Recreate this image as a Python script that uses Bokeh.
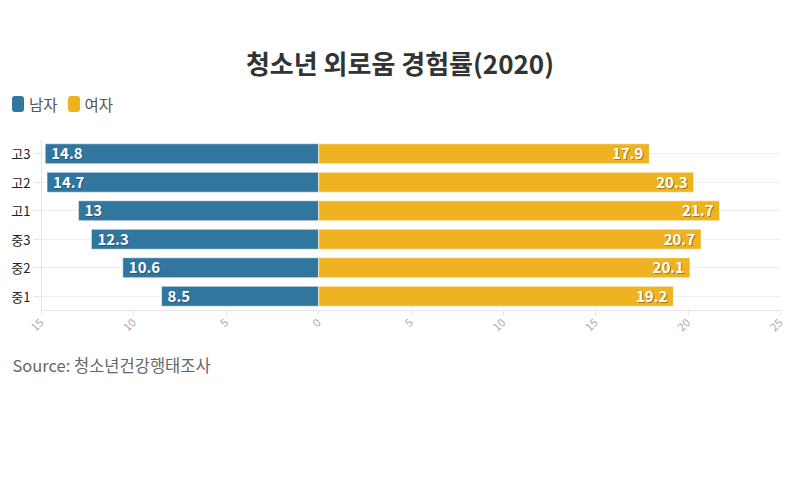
from math import pi
from bokeh.plotting import figure
from bokeh.layouts import column
from bokeh.models import (Range1d, FactorRange, FixedTicker, ColumnDataSource, Title, Div)
from bokeh.core.properties import value
from bokeh.embed import file_html
from bokeh.resources import INLINE

# ---- data ----
grades = ["중1", "중2", "중3", "고1", "고2", "고3"]
male = [8.5, 10.6, 12.3, 13, 14.7, 14.8]
female = [19.2, 20.1, 20.7, 21.7, 20.3, 17.9]
x_ticks = [-15, -10, -5, 0, 5, 10, 15, 20, 25]
x_tick_labels = ["15", "10", "5", "0", "5", "10", "15", "20", "25"]
title_text = "청소년 외로움 경험률(2020)"
source_text = "Source: 청소년건강행태조사"
series_names = ["남자", "여자"]

BLUE = "#31769f"
GOLD = "#efb322"
FONT = "Noto Sans CJK KR"
W = 784
HEAD_H = 125
MAIN_H = 484 - HEAD_H

# ---------- header: title + legend (HTML) ----------
def swatch(color, label, margin_right):
    return ('<span style="display:inline-flex;align-items:center;margin-right:%dpx;">'
            '<span style="display:inline-block;width:12px;height:16px;border-radius:3px;'
            'background:%s;margin-right:5px;"></span>%s</span>') % (margin_right, color, label)

legend_html = swatch(BLUE, series_names[0], 10) + swatch(GOLD, series_names[1], 0)
header_html = (
    '<div style="position:relative;width:%dpx;height:%dpx;font-family:\'%s\';">'
    '<div style="position:absolute;left:0;top:47px;width:800px;text-align:center;'
    'font-size:26px;line-height:32px;font-weight:bold;color:#333333;">%s</div>'
    '<div style="position:absolute;left:12px;top:96px;display:flex;align-items:center;'
    'font-size:15.5px;line-height:16px;color:#555555;">%s</div>'
    '</div>'
) % (W, HEAD_H, FONT, title_text, legend_html)
header = Div(text=header_html, width=W, height=HEAD_H, margin=(0, 0, 0, 0))

# ---------- main chart ----------
p = figure(width=W, height=MAIN_H, output_backend="svg", toolbar_location=None,
           x_range=Range1d(-15, 25), y_range=FactorRange(*grades, range_padding=0),
           title_location=None,
           min_border_left=41, min_border_right=4, min_border_top=139 - HEAD_H,
           min_border_bottom=MAIN_H - (310 - HEAD_H))
p.outline_line_color = None
p.background_fill_color = "white"

src = ColumnDataSource(dict(
    g=grades,
    mleft=[-v for v in male],
    male=male,
    female=female,
    mlab=[("%g" % v) for v in male],
    flab=[("%g" % v) for v in female],
))

p.hbar(y="g", left="mleft", right=0, height=0.7, source=src,
       fill_color=BLUE, line_color="white", line_alpha=0.55, line_width=1)
p.hbar(y="g", left=0, right="female", height=0.7, source=src,
       fill_color=GOLD, line_color="white", line_alpha=0.55, line_width=1)

# bar value labels with subtle shadow
for xcol, tcol, align, off in [("mleft", "mlab", "left", 6), ("female", "flab", "right", -6)]:
    p.text(x=xcol, y="g", text=tcol, source=src, x_offset=off + 1, y_offset=1,
           text_align=align, text_baseline="middle", text_font=value(FONT),
           text_font_style="bold", text_font_size="15px", text_color="#1a1a1a", text_alpha=0.4)
    p.text(x=xcol, y="g", text=tcol, source=src, x_offset=off, y_offset=0,
           text_align=align, text_baseline="middle", text_font=value(FONT),
           text_font_style="bold", text_font_size="15px", text_color="white")

# axes
p.xaxis.ticker = FixedTicker(ticks=x_ticks)
p.xaxis.major_label_overrides = {t: l for t, l in zip(x_ticks, x_tick_labels)}
p.xaxis.major_label_orientation = pi / 4
p.xaxis.major_label_text_color = "#aaaaaa"
p.xaxis.major_label_text_font = FONT
p.xaxis.major_label_text_font_size = "11px"
p.xaxis.axis_line_color = "#e6e6e6"
p.xaxis.major_tick_line_color = "#e6e6e6"
p.xaxis.major_tick_out = 5
p.xaxis.major_tick_in = 0
p.xaxis.minor_tick_line_color = None

p.yaxis.major_label_text_color = "#222222"
p.yaxis.major_label_text_font = FONT
p.yaxis.major_label_text_font_size = "13px"
p.yaxis.axis_line_color = "#e6e6e6"
p.yaxis.major_tick_line_color = "#e6e6e6"
p.yaxis.major_tick_out = 8
p.yaxis.major_tick_in = 0
p.yaxis.major_label_standoff = 3

p.xgrid.grid_line_color = None
p.ygrid.grid_line_color = "#eeeeee"

p.add_layout(Title(text=source_text, align="left", offset=-29, text_font=FONT,
                   text_font_size="16.5px", text_font_style="normal", text_color="#666666",
                   standoff=27), "below")

layout = column(header, p, spacing=0)
open("out.html", "w").write(file_html(layout, INLINE))
